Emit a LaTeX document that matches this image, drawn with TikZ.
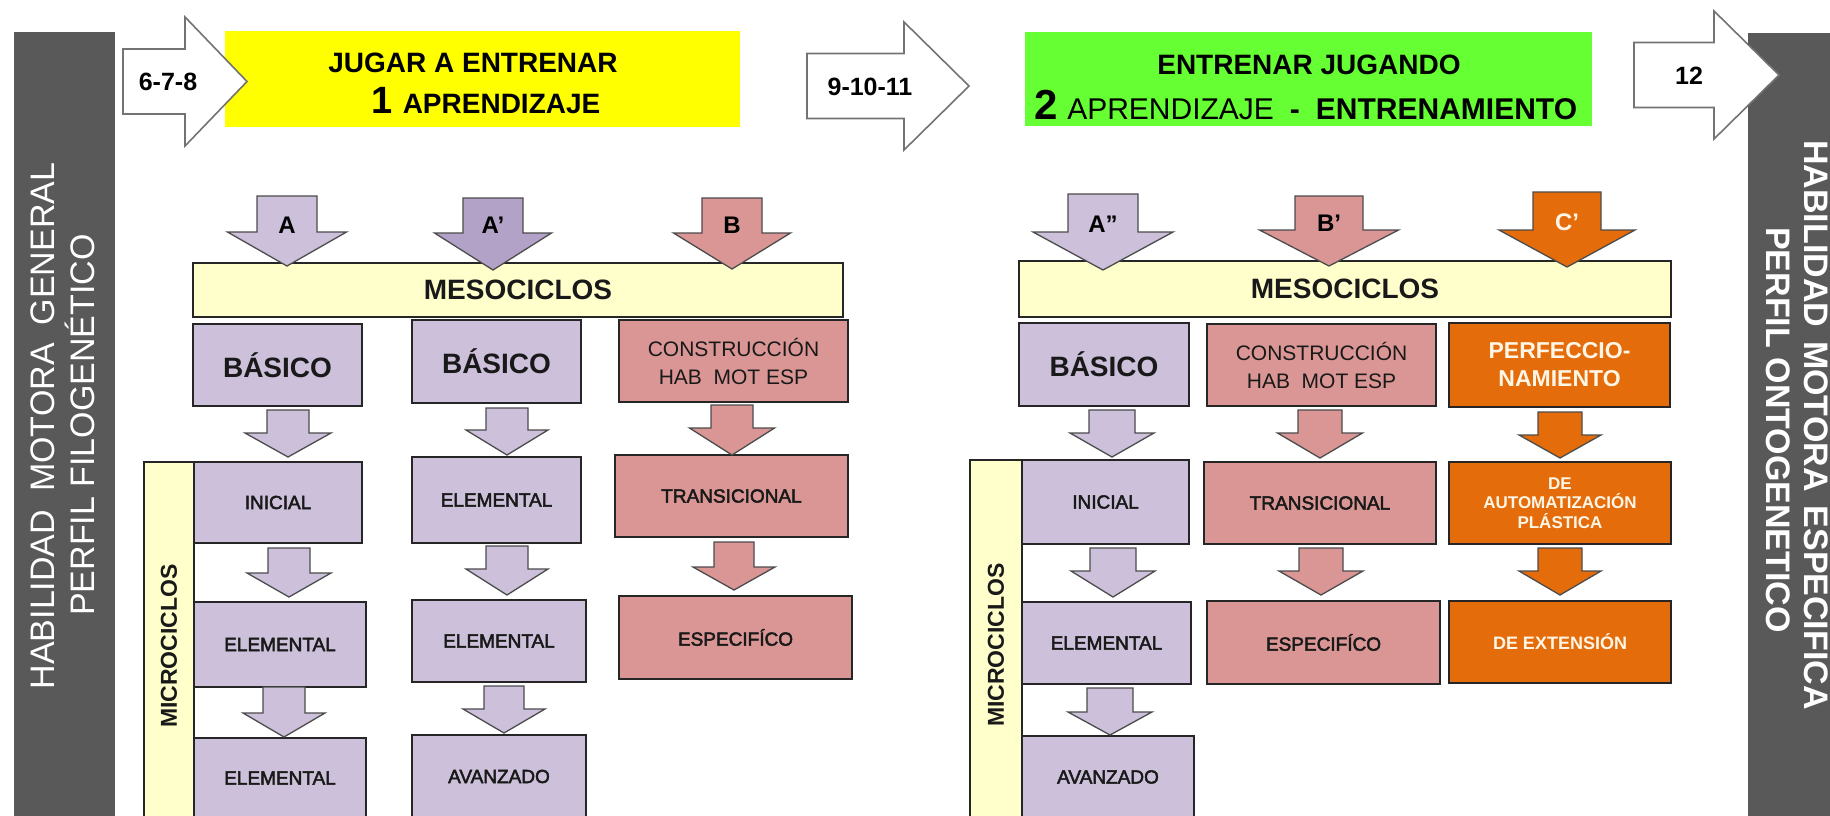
\documentclass[tikz,border=0pt]{standalone}
\usepackage{fontspec}
\setmainfont{Liberation Sans}
\newfontfamily\semibf[FakeBold=2.5]{Liberation Sans}
\definecolor{barg}{RGB}{89,89,89}
\definecolor{ylw}{RGB}{255,255,0}
\definecolor{grn}{RGB}{102,255,51}
\definecolor{ltyel}{RGB}{255,255,204}
\definecolor{lav}{RGB}{204,192,218}
\definecolor{lavd}{RGB}{179,162,199}
\definecolor{pnk}{RGB}{217,150,148}
\definecolor{orng}{RGB}{228,108,10}
\definecolor{cream}{RGB}{255,246,230}
\newcommand\cell[7]{\node[#6, minimum width={#4-#2}, minimum height={#5-#3}] (#1) at ({(#2+#4)/2},{(#3+#5)/2}) {#7};}
\newcommand\DArrow[7]{\draw[#7] (#1-#5,#2) -- (#1+#5,#2) -- (#1+#5,#3) -- (#1+#6,#3) -- (#1,#4) -- (#1-#6,#3) -- (#1-#5,#3) -- cycle;}
\newcommand\RArrow[7]{\draw[#7] (#1,#4-#5) -- (#2,#4-#5) -- (#2,#4-#6) -- (#3,#4) -- (#2,#4+#6) -- (#2,#4+#5) -- (#1,#4+#5) -- cycle;}
\tikzset{
 plain/.style={inner sep=0pt, outer sep=0pt},
 sidebar/.style={plain, fill=barg},
 banner/.style={plain},
 bx/.style={plain, draw=black!85, line width=1.5pt, align=center, text=black!90},
 lavbox/.style={bx, fill=lav},
 pnkbox/.style={bx, fill=pnk},
 orbox/.style={bx, fill=orng, text=cream},
 ylbar/.style={bx, fill=ltyel},
 arr/.style={draw=black!70, line width=1.3pt, line join=miter},
 rarr/.style={draw=black!55, fill=white, line width=1.6pt, line join=miter},
 fban/.style={plain, font=\fontsize{28}{32}\selectfont\bfseries},
 fban2/.style={plain, font=\fontsize{30}{34}\selectfont\bfseries},
 fnum/.style={plain, font=\fontsize{25}{28}\selectfont\bfseries},
 flab/.style={plain, font=\fontsize{24}{26}\selectfont\bfseries},
 fbig/.style={font=\fontsize{28}{32}\selectfont\bfseries},
 fmid/.style={font=\fontsize{21}{28}\selectfont},
 fsm/.style={font=\semibf\fontsize{19}{22}\selectfont},
 forg/.style={font=\fontsize{23}{28}\selectfont\bfseries},
 forgs/.style={font=\fontsize{17}{19.5}\selectfont\bfseries},
 forgx/.style={font=\fontsize{18}{20}\selectfont\bfseries},
 fmic/.style={font=\fontsize{23}{26}\selectfont\bfseries},
 sidetxt/.style={plain, text=white, font=\fontsize{34}{38}\selectfont},
 sidetxtb/.style={plain, text=white, font=\fontsize{34}{38}\selectfont\bfseries},
}
\begin{document}
\begin{tikzpicture}[x=1pt,y=-1pt]
\useasboundingbox (0,0) rectangle (1830,815);
\clip (0,0) rectangle (1830,815);
\fill[white] (0,0) rectangle (1830,815);
% side bars
\cell{barL}{14}{32}{115}{830}{sidebar}{}
\cell{barR}{1748}{33}{1840}{830}{sidebar}{}
\node[sidetxt, rotate=90] (tL1) at (43,426) {HABILIDAD\hspace{18pt}MOTORA\hspace{18pt}GENERAL};
\node[sidetxt, rotate=90] (tL2) at (80,425) {PERFIL FILOGENÉTICO};
\node[sidetxtb, rotate=-90] (tR1) at (1816,425) {HABILIDAD\hspace{14pt}MOTORA\hspace{14pt}ESPECIFICA};
\node[sidetxtb, rotate=-90] (tR2) at (1778,430) {PERFIL ONTOGENETICO};
% banners
\cell{ban1}{225}{31}{740}{127}{banner, fill=ylw}{}
\cell{ban2}{1025}{32}{1592}{126}{banner, fill=grn}{}
\node[fban, anchor=base] (b1a) at (473,72) {JUGAR A ENTRENAR};
\node[fban, anchor=base] (b1b) at (486,113) {{\fontsize{38}{38}\selectfont 1}\hspace{10pt}APRENDIZAJE};
\node[fban, anchor=base] (b2a) at (1309,74) {ENTRENAR JUGANDO};
\node[fban2, anchor=base] (b2b) at (1306,119) {{\fontsize{42}{42}\selectfont 2}\hspace{9pt}{\mdseries APRENDIZAJE}\hspace{16pt}-\hspace{16pt}ENTRENAMIENTO};
% age arrows
\RArrow{123}{185}{247}{81.5}{32.5}{64.5}{rarr}
\RArrow{807}{904}{969}{86}{32.5}{64}{rarr}
\RArrow{1634}{1714}{1779}{75}{32.5}{64}{rarr}
\node[fnum] (n1) at (168,82) {6-7-8};
\node[fnum] (n2) at (870,87) {9-10-11};
\node[fnum] (n3) at (1689,76) {12};
% mesociclos
\cell{mesoL}{193}{263}{843}{317}{ylbar, fbig}{MESOCICLOS}
\cell{mesoR}{1019}{261}{1671}{317}{ylbar, fbig}{MESOCICLOS}
% microciclos
\node[ylbar, fmic, rotate=90, minimum width=368, minimum height=50] (micL) at (169,646) {MICROCICLOS};
\node[ylbar, fmic, rotate=90, minimum width=370, minimum height=52] (micR) at (996,645) {MICROCICLOS};
% left panel boxes
\cell{L11}{193}{324}{362}{406}{lavbox, fbig}{BÁSICO}
\cell{L12}{412}{320}{581}{403}{lavbox, fbig}{BÁSICO}
\cell{L13}{619}{320}{848}{402}{pnkbox, fmid}{CONSTRUCCIÓN\\HAB\ \ MOT ESP}
\cell{L21}{194}{462}{362}{543}{lavbox, fsm}{INICIAL}
\cell{L22}{412}{457}{581}{543}{lavbox, fsm}{ELEMENTAL}
\cell{L23}{615}{455}{848}{537}{pnkbox, fsm}{TRANSICIONAL}
\cell{L31}{194}{602}{366}{687}{lavbox, fsm}{ELEMENTAL}
\cell{L32}{412}{600}{586}{682}{lavbox, fsm}{ELEMENTAL}
\cell{L33}{619}{596}{852}{679}{pnkbox, fsm}{ESPECIFÍCO}
\cell{L41}{194}{738}{366}{818}{lavbox, fsm}{ELEMENTAL}
\cell{L42}{412}{735}{586}{818}{lavbox, fsm}{AVANZADO}
% right panel boxes
\cell{R11}{1019}{323}{1189}{406}{lavbox, fbig}{BÁSICO}
\cell{R12}{1207}{324}{1436}{406}{pnkbox, fmid}{CONSTRUCCIÓN\\HAB\ \ MOT ESP}
\cell{R13}{1449}{323}{1670}{407}{orbox, forg}{PERFECCIO-\\NAMIENTO}
\cell{R21}{1022}{460}{1189}{544}{lavbox, fsm}{INICIAL}
\cell{R22}{1204}{462}{1436}{544}{pnkbox, fsm}{TRANSICIONAL}
\cell{R23}{1449}{462}{1671}{544}{orbox, forgs}{DE\\AUTOMATIZACIÓN\\PLÁSTICA}
\cell{R31}{1022}{602}{1191}{684}{lavbox, fsm}{ELEMENTAL}
\cell{R32}{1207}{601}{1440}{684}{pnkbox, fsm}{ESPECIFÍCO}
\cell{R33}{1449}{601}{1671}{683}{orbox, forgx}{DE EXTENSIÓN}
\cell{R41}{1022}{736}{1194}{818}{lavbox, fsm}{AVANZADO}
% big arrows
\DArrow{287}{196}{232}{266}{30}{59.5}{arr, fill=lav}
\DArrow{493}{198}{233}{270}{30}{58.5}{arr, fill=lavd}
\DArrow{732}{198}{233}{269}{30}{58.5}{arr, fill=pnk}
\DArrow{1103}{194}{232}{270}{35}{70}{arr, fill=lav}
\DArrow{1329}{196}{230}{266}{34}{69.5}{arr, fill=pnk}
\DArrow{1567}{192}{230}{267}{34}{68}{arr, fill=orng}
\node[flab] (lA) at (287,225) {A};
\node[flab] (lA1) at (493,225) {A’};
\node[flab] (lB) at (732,225) {B};
\node[flab] (lA2) at (1103,224) {A”};
\node[flab] (lB1) at (1329,223) {B’};
\node[flab, text=cream] (lC1) at (1567,222) {C’};
% small arrows left
\DArrow{288}{410}{433}{457}{21}{43}{arr, fill=lav}
\DArrow{507}{408}{430}{455}{21}{41}{arr, fill=lav}
\DArrow{732}{405}{428}{455}{21}{42.5}{arr, fill=pnk}
\DArrow{289}{548}{573}{597}{21}{42}{arr, fill=lav}
\DArrow{507}{546}{569}{595}{21}{41}{arr, fill=lav}
\DArrow{734}{542}{567}{590}{20}{41}{arr, fill=pnk}
\DArrow{284}{687}{713}{737}{21}{41}{arr, fill=lav}
\DArrow{504}{686}{709}{733}{20}{41}{arr, fill=lav}
% small arrows right
\DArrow{1112}{410}{433}{457}{23}{42}{arr, fill=lav}
\DArrow{1320}{410}{433}{458}{22}{42.5}{arr, fill=pnk}
\DArrow{1560}{412}{435}{458}{22}{41}{arr, fill=orng}
\DArrow{1113}{548}{571}{597}{23}{42}{arr, fill=lav}
\DArrow{1321}{548}{571}{595}{22}{42}{arr, fill=pnk}
\DArrow{1560}{548}{571}{595}{22}{41}{arr, fill=orng}
\DArrow{1110}{688}{712}{735}{23}{42}{arr, fill=lav}
\end{tikzpicture}
\end{document}
